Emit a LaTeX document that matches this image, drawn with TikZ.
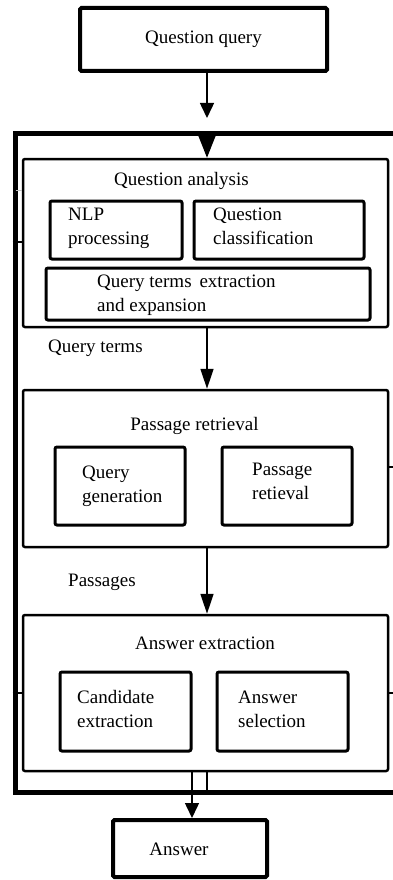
\documentclass[tikz,border=0pt]{standalone}
\usepackage{fontspec}
\setmainfont{Liberation Serif}
\usetikzlibrary{arrows.meta}
\begin{document}
\begin{tikzpicture}[x=1pt,y=-1pt,
  txt/.style={font=\fontsize{19}{24}\selectfont, inner sep=0pt, align=left},
  bigbox/.style={draw, line width=4pt, rounded corners=1.5pt, inner sep=0pt, font=\fontsize{19}{24}\selectfont},
  framebox/.style={draw, line width=5pt, inner sep=0pt},
  secbox/.style={draw, line width=2.5pt, rounded corners=2pt, inner sep=0pt},
  subbox/.style={draw, line width=3pt, rounded corners=2pt, inner sep=0pt},
  conn/.style={line width=1.5pt},
  tickline/.style={line width=1.5pt},
  arrA/.style={conn, -{Triangle[width=14pt,length=15pt]}},
  arrB/.style={conn, -{Triangle[width=17pt,length=22pt]}},
  arrC/.style={conn, -{Triangle[width=13pt,length=20pt]}},
]
\useasboundingbox (0,0) rectangle (393,880);
\clip (0,0) rectangle (393,880);

% columns of connectors
\coordinate (cx) at (207,0);
\coordinate (bx) at (192,0);

% top and bottom boxes
\node[bigbox, minimum width=247pt, minimum height=63pt] (qq) at (203.5,39.5) {Question query};
\node[bigbox, minimum width=154pt, minimum height=57pt] (ans) at (190,848.5) {};
\node[txt] (anst) at (179,849) {Answer};

% outer frame (right side lies outside the picture)
\node[framebox, anchor=north west, minimum width=395pt, minimum height=659pt] (outer) at (12.5,131) {};

% sections
\node[secbox, minimum width=365pt, minimum height=168pt] (qa) at (205.5,243) {};
\node[secbox, minimum width=365pt, minimum height=157pt] (pr) at (205.5,468.5) {};
\node[secbox, minimum width=365pt, minimum height=156pt] (ae) at (205.5,693) {};

% section titles
\node[txt] (qat) at (181.5,181) {Question analysis};
\node[txt] (prt) at (194.5,426) {Passage retrieval};
\node[txt] (aet) at (205,643) {Answer extraction};

% sub boxes
\node[subbox, minimum width=132pt, minimum height=58pt] (nlp) at (116,230) {};
\node[subbox, minimum width=170pt, minimum height=58pt] (qc) at (279,230) {};
\node[subbox, minimum width=324pt, minimum height=52pt] (qte) at (208,294) {};
\node[subbox, minimum width=130pt, minimum height=78pt] (qg) at (120,486) {};
\node[subbox, minimum width=130pt, minimum height=78pt] (pret) at (287,486) {};
\node[subbox, minimum width=131pt, minimum height=79pt] (ce) at (125.5,711.5) {};
\node[subbox, minimum width=131pt, minimum height=79pt] (as) at (282.5,711.5) {};

% sub box texts
\node[txt, anchor=west] (nlpt) at (68,228) {NLP\\processing};
\node[txt, anchor=west] (qct) at (213,226.5) {Question\\classification};
\node[txt, anchor=west] (qtet) at (97,295) {Query terms\, extraction\\and expansion};
\node[txt, anchor=west] (qgt) at (82,486) {Query\\generation};
\node[txt, anchor=west] (prett) at (252,481.5) {Passage\\retieval};
\node[txt, anchor=west] (cet) at (77,709) {Candidate\\extraction};
\node[txt, anchor=west] (ast) at (238,709.5) {Answer\\selection};

% flow labels
\node[txt, anchor=west] (lqt) at (48,348) {Query terms};
\node[txt, anchor=west] (lps) at (68,582) {Passages};

% connectors
\coordinate (in1) at (207,118);
\draw[arrA] (qq.south -| cx) -- (in1);
\draw[arrB] (outer.north -| cx) -- (qa.north -| cx);
\draw[arrC] (qa.south -| cx) -- (pr.north -| cx);
\draw[arrC] (pr.south -| cx) -- (ae.north -| cx);
\draw[conn] (ae.south -| cx) -- (outer.south -| cx);
\draw[conn] (ae.south -| bx) -- (outer.south -| bx);
\draw[arrA] (outer.south -| bx) -- (ans.north -| bx);

% small side ticks
\draw[tickline] (outer.west |- 0,242) -- (qa.west |- 0,242);
\draw[black!25, line width=1pt] (15.5,190) -- (qa.west |- 0,190);
\draw[tickline] (pr.east |- 0,467) -- (393,467);
\draw[tickline] (outer.west |- 0,693) -- (ae.west |- 0,693);
\draw[tickline] (ae.east |- 0,693) -- (393,693);
\end{tikzpicture}
\end{document}
